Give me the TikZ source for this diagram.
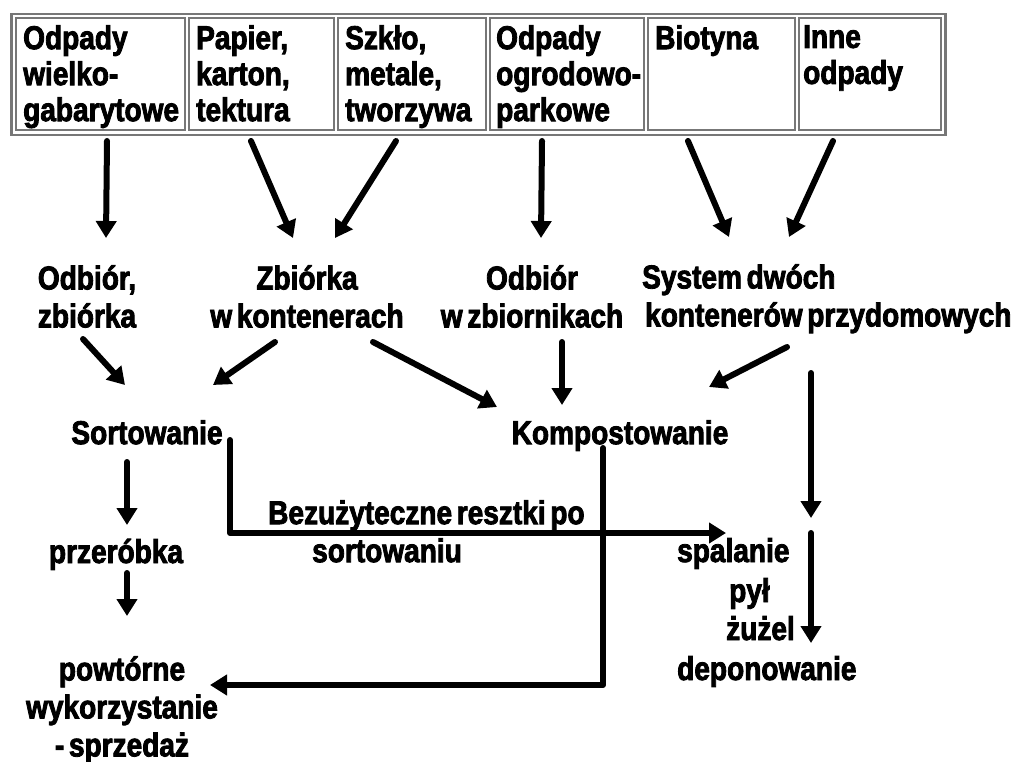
\documentclass[tikz,border=0pt]{standalone}
\usepackage{fontspec}
\newfontfamily\imp{Liberation Sans}[FakeStretch=0.85,WordSpace=0.6,BoldFeatures={FakeBold=2.5}]
\usetikzlibrary{arrows.meta,calc}
\definecolor{frameg}{HTML}{777777}
\begin{document}
\begin{tikzpicture}[x=1pt,y=-1pt,
  lbl/.style={font=\imp\bfseries\fontsize{33}{38}\selectfont, inner sep=0pt, align=center},
  celltxt/.style={font=\imp\bfseries\fontsize{33}{36}\selectfont, inner sep=0pt, align=left, anchor=north west},
  cellbox/.style={draw=frameg, line width=2pt, inner sep=0pt, anchor=north west, minimum height=112pt},
  framebox/.style={draw=frameg, line width=2.5pt, inner sep=0pt, anchor=north west},
  arr/.style={line width=6pt, line cap=round, line join=round, -{Triangle[width=20pt,length=17pt]}}]
\useasboundingbox (0,0) rectangle (1019,762);
\fill[white] (0,0) rectangle (1019,762);
% table
\node[framebox, minimum width=934pt, minimum height=121pt] (tab) at (10,13) {};
\node[cellbox, minimum width=169pt] (c1) at (15,17) {};
\node[cellbox, minimum width=145pt] (c2) at (188,17) {};
\node[cellbox, minimum width=148pt] (c3) at (337,17) {};
\node[cellbox, minimum width=154pt] (c4) at (489,17) {};
\node[cellbox, minimum width=147pt] (c5) at (647,17) {};
\node[cellbox, minimum width=142pt] (c6) at (798,17) {};
\node[celltxt] (t1) at (23,25) {Odpady\\wielko-\\gabarytowe};
\node[celltxt] (t2) at (196,25) {Papier,\\karton,\\tektura};
\node[celltxt] (t3) at (345,25) {Szkło,\\metale,\\tworzywa};
\node[celltxt] (t4) at (496,25) {Odpady\\ogrodowo-\\parkowe};
\node[celltxt] (t5) at (655,25) {Biotyna};
\node[celltxt] (t6) at (803,25) {Inne\\odpady};
% middle labels
\node[lbl, anchor=north] (odb) at (87,265) {Odbiór,\\zbiórka};
\node[lbl, anchor=north] (zb) at (307,265) {Zbiórka\\w kontenerach};
\node[lbl, anchor=north] (zbior) at (532,265) {Odbiór\\w zbiornikach};
\node[lbl, anchor=north west, align=left] (sys) at (642,264) {System dwóch\\\hspace*{3pt}kontenerów przydomowych};
\node[lbl, anchor=north] (sort) at (147,420) {Sortowanie};
\node[lbl, anchor=north] (komp) at (620,420) {Kompostowanie};
\node[lbl, anchor=base] (przer) at (116,563) {przeróbka};
\node[lbl, anchor=north] (powt) at (122,656) {powtórne\\wykorzystanie\\- sprzedaż};
\node[lbl, anchor=north west, align=left] (bez) at (268,500) {Bezużyteczne resztki po\\\hspace*{44pt}sortowaniu};
\node[lbl, anchor=base west] (spal) at (677,562) {spalanie};
\node[lbl, anchor=base west] (pyl) at (729,602) {pył};
\node[lbl, anchor=base west] (zuzel) at (726,640) {żużel};
\node[lbl, anchor=base west] (depo) at (677,680) {deponowanie};
% arrows top -> middle
\draw[arr] ([xshift=6.5pt,yshift=-10pt]c1.south) -- ([xshift=19pt,yshift=27pt]odb.north);
\draw[arr] ([xshift=-10.5pt,yshift=-10pt]c2.south) -- ([xshift=-14pt,yshift=27pt]zb.north);
\draw[arr] ([xshift=-16pt,yshift=-10pt]c3.south) -- ([xshift=28pt,yshift=27pt]zb.north);
\draw[arr] ([xshift=-25pt,yshift=-10pt]c4.south) -- ([xshift=9pt,yshift=27pt]zbior.north);
\draw[arr] ([xshift=-33.5pt,yshift=-10pt]c5.south) -- ([xshift=87pt,yshift=27pt]sys.north west);
\draw[arr] ([xshift=-37pt,yshift=-10pt]c6.south) -- ([xshift=147pt,yshift=27pt]sys.north west);
% middle -> third row
\draw[arr] ([xshift=-4pt,yshift=-74pt]odb.north) -- ([xshift=-22pt,yshift=35pt]sort.north);
\draw[arr] ([xshift=-32pt,yshift=-77pt]zb.north) -- ([xshift=66pt,yshift=35pt]sort.north);
\draw[arr] ([xshift=66pt,yshift=-77pt]zb.north) -- ([xshift=-123pt,yshift=13pt]komp.north);
\draw[arr] ([xshift=30pt,yshift=-77pt]zbior.north) -- ([xshift=-58pt,yshift=15pt]komp.north);
\draw[arr] ([xshift=145pt,yshift=-83pt]sys.north west) -- ([xshift=89pt,yshift=33pt]komp.north);
\draw[arr] ([xshift=169pt,yshift=-109pt]sys.north west) -- ([xshift=134pt,yshift=44pt]spal.base west);
\draw[arr] ([xshift=134pt,yshift=29pt]spal.base west) -- ([xshift=134pt,yshift=37pt]depo.base west);
% lower
\draw[arr] ([xshift=-20pt,yshift=-42pt]sort.north) -- ([xshift=11pt,yshift=38pt]przer.base);
\draw[arr] ([xshift=11pt,yshift=-10pt]przer.base) -- ([xshift=5pt,yshift=40pt]powt.north);
\draw[arr] ([xshift=83pt,yshift=-20pt]sort.north) |- ([xshift=49pt,yshift=29pt]spal.base west);
\draw[arr] ([xshift=-17pt,yshift=-28pt]komp.north) |- ([xshift=88pt,yshift=-29pt]powt.north);
\end{tikzpicture}
\end{document}
